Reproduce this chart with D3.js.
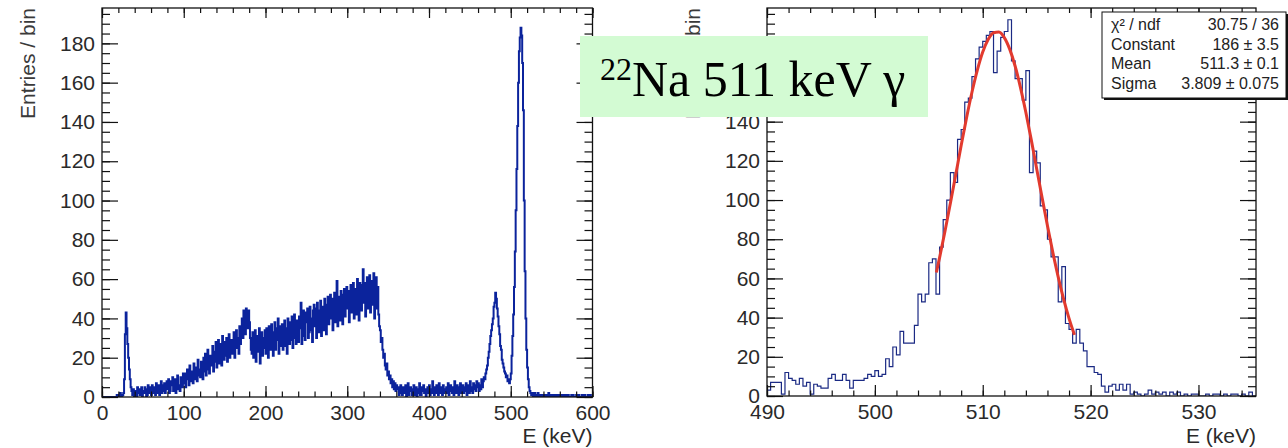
<!DOCTYPE html>
<html>
<head>
<meta charset="utf-8">
<script src="https://cdn.jsdelivr.net/npm/d3@7"></script>
<style>
  body { margin: 0; background: #fff; }
  svg { display: block; }
  .tick text { font-family: "Liberation Sans", Arial, sans-serif; }
</style>
</head>
<body>
<div id="chart-area"></div>
<script>
let width = 1288,
height = 448;

// left spectrum, 1 keV bins from 0 to 600 keV
let leftCounts = [
  0,0,0,0,0,0,0,0,0,0,0,0,0,0,0,0,0,0,1,0,
  1,0,2,1,0,1,2,9,32,43,35,27,20,14,9,5,3,1,4,0,
  3,1,0,5,2,4,1,1,5,0,3,2,5,4,0,1,6,3,2,5,
  1,6,2,5,4,1,7,3,2,6,1,5,8,2,3,6,7,2,4,8,
  4,9,2,3,8,6,10,3,5,9,2,7,11,4,6,3,10,8,5,12,
  7,12,5,9,14,11,6,16,8,10,13,7,17,9,12,15,8,19,11,14,
  10,18,15,9,20,13,22,11,17,24,14,12,21,19,16,26,13,23,18,28,
  15,25,29,17,22,27,16,31,24,19,28,21,30,18,26,32,20,24,29,22,
  23,33,20,28,34,25,30,22,36,27,33,40,30,44,38,32,45,42,35,44,
  38,30,24,22,33,20,29,34,18,26,31,23,35,17,28,33,21,30,25,34,
  22,35,28,20,36,31,24,37,27,21,33,38,24,29,35,40,22,31,36,26,
  37,24,30,39,26,35,22,40,33,27,38,29,41,25,34,42,30,27,39,35,
  28,41,35,48,27,36,44,31,29,43,38,45,30,33,46,40,34,28,44,47,
  36,45,30,48,39,33,44,49,31,38,46,34,50,42,32,47,51,37,44,52,
  40,50,34,45,53,38,42,59,36,48,51,39,54,44,37,52,55,41,47,56,
  45,54,38,50,57,43,49,58,40,52,55,42,60,47,39,58,53,44,57,65,
  48,58,41,52,61,45,57,62,43,50,59,47,63,40,54,61,45,56,42,36,
  34,28,30,24,20,22,16,14,17,11,13,9,11,7,9,5,8,4,7,3,
  6,4,5,1,2,6,3,1,5,2,2,6,0,4,7,1,3,5,4,1,
  2,6,1,3,5,0,4,2,7,1,1,5,3,6,2,4,0,3,5,2,
  6,1,4,2,8,3,1,5,2,6,4,1,7,2,5,3,1,6,2,4,
  3,5,2,7,1,4,6,3,2,5,1,8,4,2,6,5,1,3,7,2,
  4,6,2,5,3,7,1,4,6,2,8,5,3,2,7,4,6,3,8,5,
  7,3,6,4,9,5,8,10,9,12,14,16,20,23,27,31,34,37,40,46,
  48,53,50,45,41,36,32,26,24,19,17,15,13,12,10,11,8,9,7,9,
  12,21,31,42,56,74,95,116,138,160,176,183,188,184,170,146,100,64,40,24,
  15,9,5,3,2,1,2,0,1,2,0,1,0,2,1,0,1,0,0,1,
  0,1,0,0,1,0,2,0,1,0,0,1,0,1,0,0,1,0,0,1,
  0,0,1,0,1,0,0,1,0,0,1,0,0,0,1,0,1,0,0,0,
  1,0,0,1,0,0,0,1,0,0,1,0,0,0,1,0,0,1,0,0
];

// zoom on the 511 peak, 1/3 keV bins from 490 keV
let rightCounts = [
  3,7,7,7,1,12,9,8,6,9,5,7,1,6,5,4,4,9,11,8,
  8,11,8,4,8,8,8,9,11,10,13,10,11,19,15,25,21,33,27,27,
  27,36,52,48,52,68,70,52,76,90,100,114,109,131,136,150,152,163,172,178,
  181,184,186,165,176,183,186,192,171,162,162,151,166,114,125,119,97,95,80,71,
  71,48,66,37,34,27,34,27,23,15,15,12,11,5,2,5,6,3,6,3,
  6,1,2,1,0,1,3,1,2,1,2,0,2,1,2,0,1,0,1,1,
  0,0,1,0,1,1,0,1,0,1,1,0,1,0,2,0
];

// gaussian fit
let fitEnergy = [505.7,506,506.5,507,507.5,508,508.5,509,509.5,510,510.5,511,511.5,
  512,512.5,513,513.5,514,514.5,515,515.5,516,516.5,517,517.5,518,518.5];
let fitCounts = [63,70.6,84.1,98.4,113,127.8,142,155,166.3,175.5,181.9,185.4,185.7,
  182.9,177,168.4,157.4,144.7,130.7,116,101.3,86.9,73.2,60.7,49.4,39.6,31.2];

let yTicks = [0,20,40,60,80,100,120,140,160,180];
let leftXTicks = [0,100,200,300,400,500,600];
let rightXTicks = [490,500,510,520,530];

let statNames = ["\u03c7\u00b2 / ndf", "Constant", "Mean", "Sigma"];
let statValues = ["30.75 / 36", "186 \u00b1 3.5", "511.3 \u00b1 0.1", "3.809 \u00b1 0.075"];

let font = "'Liberation Sans', Arial, sans-serif";

let svg = d3.select("#chart-area")
    .append("svg")
    .attr("width", width)
    .attr("height", height);

svg.append("rect").attr("width", width).attr("height", height).attr("fill", "#fff");

//draw one ROOT style pad
function drawPanel(opt){
    let x = d3.scaleLinear().domain(opt.xDomain).range([opt.left, opt.right]);
    let y = d3.scaleLinear().domain([0, 198]).range([opt.bottom, opt.top]);
    let g = svg.append("g");

    g.append("clipPath").attr("id", opt.id + "clip")
        .append("rect")
        .attr("x", opt.left).attr("y", opt.top)
        .attr("width", opt.right - opt.left).attr("height", opt.bottom - opt.top);

    //histogram as a step line
    let pts = [[opt.xDomain[0], 0]];
    opt.counts.forEach(function(c, i){ pts.push([opt.lo + i * opt.binW, c]); });
    let hi = opt.lo + opt.counts.length * opt.binW;
    pts.push([hi, opt.counts[opt.counts.length - 1]]);
    pts.push([hi, 0]);

    let step = d3.line()
        .x(function(d){ return x(d[0]); })
        .y(function(d){ return y(d[1]); })
        .curve(d3.curveStepAfter);

    g.append("path")
        .attr("clip-path", "url(#" + opt.id + "clip)")
        .attr("d", step(pts))
        .attr("fill", "none")
        .attr("stroke", opt.color)
        .attr("stroke-width", opt.lineW);

    if (opt.fit) {
        let fitLine = d3.line()
            .x(function(d, i){ return x(fitEnergy[i]); })
            .y(function(d){ return y(d); })
            .curve(d3.curveMonotoneX);
        g.append("path")
            .attr("d", fitLine(fitCounts))
            .attr("fill", "none")
            .attr("stroke", "#e23a2e")
            .attr("stroke-width", 3);
    }

    //axes, ticks point into the frame on all four sides
    let yMinor = d3.range(0, 196, 5);
    let xMinor = d3.range(opt.xDomain[0], opt.xDomain[1] + 0.01, opt.minorStep);

    function styleAxis(sel){
        sel.select(".domain").remove();
        sel.selectAll("line").attr("stroke", "#111").attr("stroke-width", 1.2);
        sel.selectAll("text").attr("fill", "#2a2a2a").style("font-size", "21px").style("font-family", font);
    }

    g.append("g").attr("transform", "translate(0," + opt.bottom + ")")
        .call(d3.axisBottom(x).tickValues(opt.xTicks).tickSize(-11).tickPadding(8).tickFormat(d3.format("d")))
        .call(styleAxis);
    g.append("g").attr("transform", "translate(0," + opt.bottom + ")")
        .call(d3.axisBottom(x).tickValues(xMinor).tickSize(-5.5).tickFormat(""))
        .call(styleAxis);
    g.append("g").attr("transform", "translate(0," + opt.top + ")")
        .call(d3.axisTop(x).tickValues(opt.xTicks).tickSize(-10).tickFormat(""))
        .call(styleAxis);
    g.append("g").attr("transform", "translate(0," + opt.top + ")")
        .call(d3.axisTop(x).tickValues(xMinor).tickSize(-5).tickFormat(""))
        .call(styleAxis);

    g.append("g").attr("transform", "translate(" + opt.left + ",0)")
        .call(d3.axisLeft(y).tickValues(yTicks).tickSize(-16).tickPadding(7))
        .call(styleAxis);
    g.append("g").attr("transform", "translate(" + opt.left + ",0)")
        .call(d3.axisLeft(y).tickValues(yMinor).tickSize(-8).tickFormat(""))
        .call(styleAxis);
    g.append("g").attr("transform", "translate(" + opt.right + ",0)")
        .call(d3.axisRight(y).tickValues(yTicks).tickSize(-16).tickFormat(""))
        .call(styleAxis);
    g.append("g").attr("transform", "translate(" + opt.right + ",0)")
        .call(d3.axisRight(y).tickValues(yMinor).tickSize(-8).tickFormat(""))
        .call(styleAxis);

    //frame
    g.append("rect")
        .attr("x", opt.left).attr("y", opt.top)
        .attr("width", opt.right - opt.left).attr("height", opt.bottom - opt.top)
        .attr("fill", "none").attr("stroke", "#111").attr("stroke-width", 1.3);

    //titles
    g.append("text")
        .attr("x", opt.right).attr("y", 443)
        .attr("text-anchor", "end")
        .style("font-family", font).style("font-size", "21px")
        .attr("fill", "#2a2a2a")
        .text("E (keV)");

    g.append("text")
        .attr("transform", "translate(" + (opt.left - 67) + "," + opt.top + ") rotate(-90)")
        .attr("text-anchor", "end")
        .style("font-family", font).style("font-size", "21px")
        .attr("fill", "#3a3a3a")
        .text("Entries / bin");
}

drawPanel({id: "left", left: 102, right: 592.5, top: 8, bottom: 397,
    xDomain: [0, 600], xTicks: leftXTicks, minorStep: 20,
    counts: leftCounts, lo: 0, binW: 1, color: "#0b239c", lineW: 2, fit: false});

drawPanel({id: "right", left: 767, right: 1256, top: 8, bottom: 396,
    xDomain: [490, 490 + 136 / 3], xTicks: rightXTicks, minorStep: 2,
    counts: rightCounts, lo: 490, binW: 1 / 3, color: "#1b2a84", lineW: 1.2, fit: true});

//fit statistics box
let stats = svg.append("g");
stats.append("rect").attr("x", 1104).attr("y", 14).attr("width", 184).attr("height", 86).attr("fill", "#111");
stats.append("rect").attr("x", 1102).attr("y", 12).attr("width", 184).attr("height", 86)
    .attr("fill", "#fff").attr("stroke", "#111").attr("stroke-width", 1);
statNames.forEach(function(n, i){
    stats.append("text").attr("x", 1111).attr("y", 30 + i * 19.7)
        .style("font-family", font).style("font-size", "16px").attr("fill", "#222")
        .text(n);
    stats.append("text").attr("x", 1279).attr("y", 30 + i * 19.7)
        .attr("text-anchor", "end")
        .style("font-family", font).style("font-size", "16px").attr("fill", "#222")
        .text(statValues[i]);
});

//green label
let label = svg.append("g");
label.append("rect").attr("x", 580).attr("y", 36).attr("width", 348).attr("height", 81).attr("fill", "#d3fbd3");
let lt = label.append("text")
    .attr("x", 600).attr("y", 96)
    .style("font-family", "'Liberation Serif', 'Times New Roman', serif")
    .attr("fill", "#000");
lt.append("tspan").attr("dy", -16).style("font-size", "32px").text("22");
lt.append("tspan").attr("dy", 16).style("font-size", "50px").text("Na 511 keV \u03b3");
</script>
</body>
</html>
